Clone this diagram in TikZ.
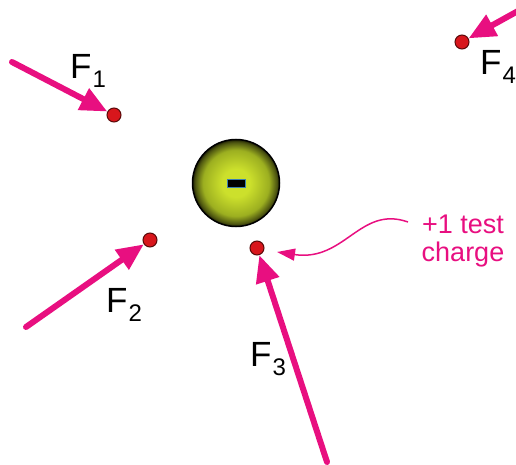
\documentclass[tikz,border=0pt]{standalone}
\usepackage{fontspec}
\setmainfont{Liberation Sans}
\usetikzlibrary{positioning, arrows.meta}
\definecolor{forcePink}{HTML}{E80F80}
\definecolor{dotRed}{HTML}{D8161C}
\definecolor{dotRim}{HTML}{5A0A0A}
\definecolor{ballIn}{HTML}{CCE02C}
\definecolor{ballMid}{HTML}{9CAF20}
\definecolor{ballDark}{HTML}{4C5410}
\definecolor{ballOut}{HTML}{1E2004}
\definecolor{minusBlue}{HTML}{3C7FB0}
\pgfdeclareradialshading{chargeball}{\pgfpoint{0bp}{0bp}}{%
  color(0bp)=(ballIn); color(8bp)=(ballIn); color(19bp)=(ballMid);
  color(23.5bp)=(ballDark); color(25bp)=(ballOut); color(50bp)=(ballOut)}
\newcommand{\fv}[1]{F\kern1pt\raisebox{-9pt}{\fontsize{24}{24}\selectfont #1}}

\begin{document}
\begin{tikzpicture}[
  x=1pt, y=-1pt,
  font=\fontsize{35}{38}\selectfont,
  tcharge/.style={circle, fill=dotRed, draw=dotRim, line width=1pt,
                  minimum size=14pt, inner sep=0pt},
  force/.style={draw=forcePink, line width=6pt, line cap=round,
                -{Triangle[length=27pt, width=23pt]}},
  flabel/.style={anchor=base west, inner sep=0pt},
]
\useasboundingbox (0,0) rectangle (516,465);

% ===== source charge ========================================================
\node[circle, minimum size=87pt, inner sep=0pt, shading=chargeball,
      draw=black, line width=1.5pt] (src) at (236,183) {};
\node[rectangle, minimum width=18pt, minimum height=8pt, inner sep=0pt,
      fill=black, draw=minusBlue, line width=0.7pt] (minus) at (src.center) {};

% ===== test charges =========================================================
\node[tcharge] (q1) at (114,115) {};
\node[tcharge] (q2) at (150,240) {};
\node[tcharge] (q3) at (257,248) {};
\node[tcharge] (q4) at (462,42) {};

% ===== force arrows =========================================================
\coordinate (t1) at (12,62);
\coordinate (t2) at (26,327);
\coordinate (t3) at (327,462);
\coordinate (t4) at (518,11);
\draw[force] (t1) -- (q1);
\draw[force] (t2) -- (q2);
\draw[force] (t3) -- (q3);
\draw[force] (t4) -- (q4);

% ===== labels ===============================================================
\node[flabel] (f1) at (70,79) {\fv{1}};
\node[flabel] (f2) at (106,312) {\fv{2}};
\node[flabel] (f3) at (250,366) {\fv{3}};
\node[flabel] (f4) at (480,75) {\fv{4}};

% ===== test charge note =====================================================
\node[align=center, text=forcePink, inner sep=0pt,
      font=\fontsize{27}{28.5}\selectfont] (note) at (463,241) {+1 test\\charge};
\draw[forcePink, line width=1.5pt, -{Triangle[length=18pt, width=12pt]}]
  (408,222) .. controls (360,205) and (345,262) .. (277,252);

\end{tikzpicture}
\end{document}
